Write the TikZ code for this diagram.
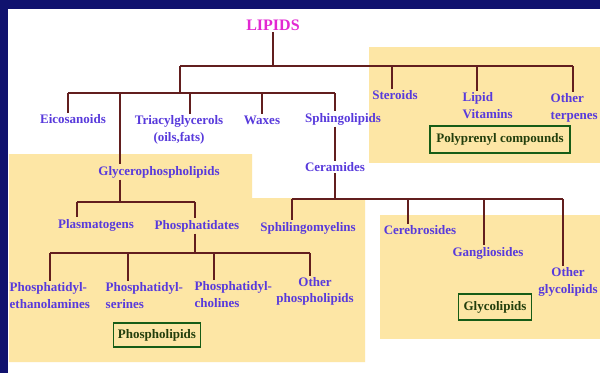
\documentclass[tikz,border=0pt]{standalone}
\usepackage{fontspec}
\setmainfont{Liberation Serif}
\usepackage{tikz}

\definecolor{navy}{RGB}{16,18,110}
\definecolor{pale}{RGB}{253,230,165}
\definecolor{lblue}{RGB}{88,58,220}
\definecolor{lmag}{RGB}{226,40,210}
\definecolor{lbrown}{RGB}{98,30,30}
\definecolor{gborder}{RGB}{22,92,22}
\definecolor{gtext}{RGB}{34,62,12}
\newcommand\lfont{\bfseries\fontsize{13}{16.5}\selectfont}

\begin{document}
\begin{tikzpicture}[x=1pt,y=-1pt,
  lbl/.style={text=lblue,font=\lfont,inner sep=1.5pt},
  grp/.style={draw=gborder,line width=1.4pt,text=gtext,font=\lfont,inner sep=3pt},
  link/.style={draw=lbrown,line width=1.6pt}]
\clip (0,0) rectangle (600,373);
% background and coloured areas
\fill[navy] (0,0) rectangle (600,373);
\fill[white] (8,9) rectangle (600,373);
\fill[pale] (369,47) rectangle (600,163);
\fill[pale] (9,154) -- (252,154) -- (252,198) -- (365,198) -- (365,362) -- (9,362) -- cycle;
\fill[pale] (380,215) rectangle (600,339);

\node[lbl,text=lmag,font=\bfseries\fontsize{16}{18}\selectfont] (lipids) at (273,25) {LIPIDS};
\node[lbl] (eico) at (73,119) {Eicosanoids};
\node[lbl,align=center] (tri) at (179,130) {Triacylglycerols\\(oils,fats)};
\node[lbl] (waxes) at (262,120) {Waxes};
\node[lbl] (sphingo) at (343,119) {Sphingolipids};
\node[lbl] (steroids) at (395,95) {Steroids};
\node[lbl,align=left,anchor=west] (vitamins) at (461,105.5) {Lipid\\Vitamins};
\node[lbl,align=left,anchor=west] (terpenes) at (549,108) {Other\\terpenes};
\node[grp,minimum width=140pt,minimum height=27pt] (poly) at (500,139.5) {Polyprenyl compounds};

\node[lbl] (glycero) at (159,172) {Glycerophospholipids};
\node[lbl] (plasma) at (96,225) {Plasmatogens};
\node[lbl] (phtd) at (197,226) {Phosphatidates};
\node[lbl,align=left,anchor=west] (pe) at (8,295.5) {Phosphatidyl-\\ethanolamines};
\node[lbl,align=left,anchor=west] (ps) at (104,295.5) {Phosphatidyl-\\serines};
\node[lbl,align=left,anchor=west] (pc) at (193,294.5) {Phosphatidyl-\\cholines};
\node[lbl,align=center] (otherpl) at (315,291.5) {Other\\phospholipids};
\node[grp,minimum width=87pt,minimum height=24pt] (phosbox) at (157,335) {Phospholipids};

\node[lbl] (cer) at (335,167) {Ceramides};
\node[lbl] (smy) at (308,228) {Sphilingomyelins};
\node[lbl] (cerebro) at (420,230) {Cerebrosides};
\node[lbl] (ganglio) at (488,253) {Gangliosides};
\node[lbl,align=center] (otherglyco) at (568,282) {Other\\glycolipids};
\node[grp,minimum width=73pt,minimum height=26pt] (glycobox) at (495,307) {Glycolipids};

% top of the tree
\coordinate (top) at (180,66);
\coordinate (topR) at (573,66);
\coordinate (mid) at (180,93);
\coordinate (midL) at (68,93);
\coordinate (midR) at (335,93);
\draw[link] (lipids.south) -- (lipids.south |- top);
\draw[link] (top) -- (topR);
\draw[link] (top) -- (mid);
\draw[link] (midL) -- (midR);
\foreach \x/\n in {68/eico,120/glycero,190/tri,262/waxes,335/sphingo}{
  \coordinate (d) at (\x,93);
  \draw[link] (d) -- (d |- \n.north);
}
\foreach \x/\n in {392/steroids,477/vitamins,573/terpenes}{
  \coordinate (d) at (\x,66);
  \draw[link] (d) -- (d |- \n.north);
}

% sphingolipids
\coordinate (low) at (335,199);
\coordinate (lowL) at (292,199);
\coordinate (lowR) at (563,199);
\draw[link] (midR |- sphingo.south) -- (midR |- cer.north);
\draw[link] (cer.south) -- (low);
\draw[link] (lowL) -- (lowR);
\foreach \x/\n in {292/smy,408/cerebro,484/ganglio,563/otherglyco}{
  \coordinate (d) at (\x,199);
  \draw[link] (d) -- (d |- \n.north);
}

% glycerophospholipids
\coordinate (gbar) at (120,202);
\coordinate (gbarL) at (77,202);
\coordinate (gbarR) at (195,202);
\coordinate (pbar) at (195,253);
\coordinate (pbarL) at (50,253);
\coordinate (pbarR) at (310,253);
\draw[link] (gbar |- glycero.south) -- (gbar);
\draw[link] (gbarL) -- (gbarR);
\foreach \x/\n in {77/plasma,195/phtd}{
  \coordinate (d) at (\x,202);
  \draw[link] (d) -- (d |- \n.north);
}
\draw[link] (pbar |- phtd.south) -- (pbar);
\draw[link] (pbarL) -- (pbarR);
\foreach \x/\n in {50/pe,128/ps,214/pc,310/otherpl}{
  \coordinate (d) at (\x,253);
  \draw[link] (d) -- (d |- \n.north);
}
\end{tikzpicture}
\end{document}
